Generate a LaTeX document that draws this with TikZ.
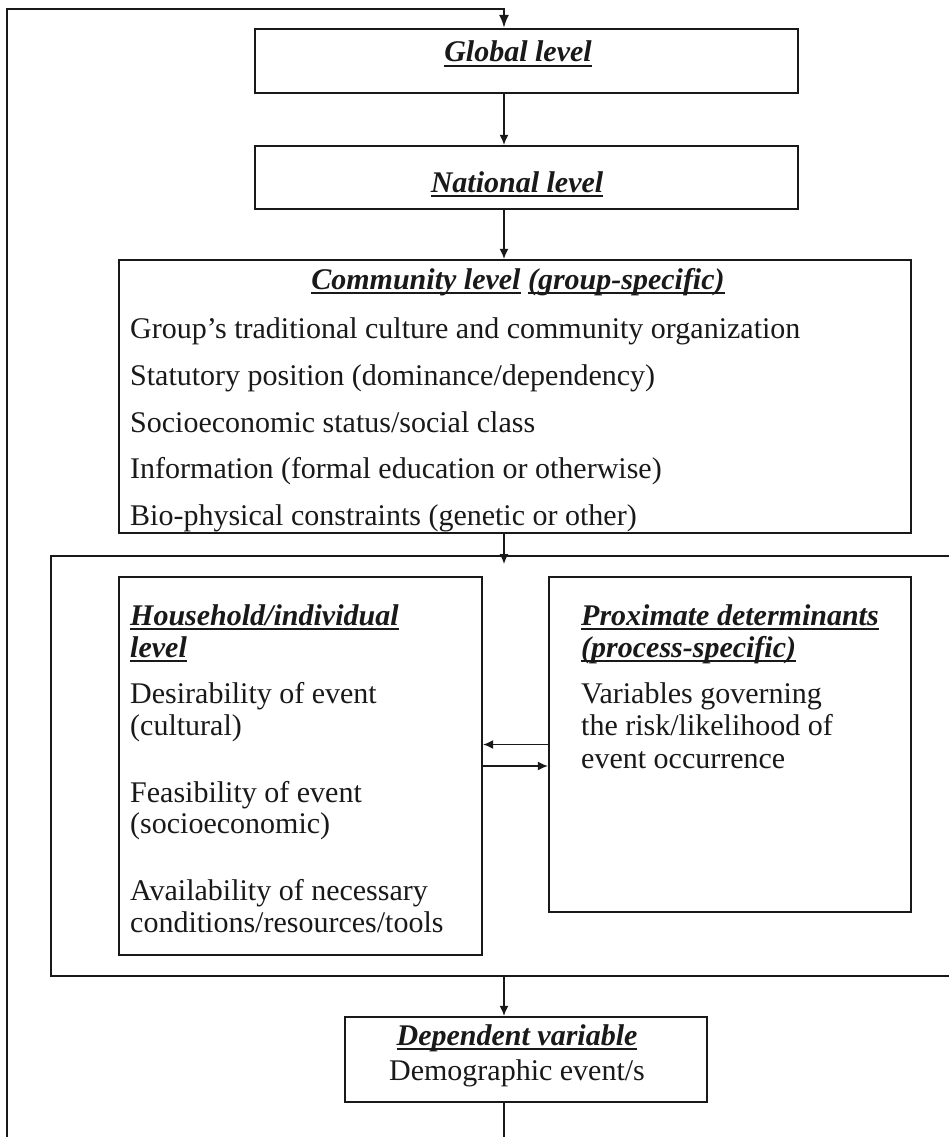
\documentclass[tikz,border=0pt]{standalone}
\usepackage{fontspec}
\setmainfont{Liberation Serif}
\usetikzlibrary{arrows.meta}
\newsavebox\ulsave
\newcommand\ulin[1]{\sbox\ulsave{#1}\rlap{\rule[-5pt]{\wd\ulsave}{2.2pt}}\usebox\ulsave}
\begin{document}
\begin{tikzpicture}[x=1pt,y=-1pt,
  boxst/.style={draw=black!90, line width=2.2pt, rectangle, inner sep=0pt},
  conn/.style={line width=1.6pt, draw=black!90},
  arr/.style={conn, -{Latex[length=10pt,width=9pt]}},
  txt/.style={inner sep=0pt, text=black!90, font=\fontsize{30}{32}\selectfont},
  hd/.style={inner sep=0pt, text=black!90, font=\fontsize{30}{32}\selectfont\bfseries\itshape},
]
\useasboundingbox (0,0) rectangle (949,1137);
\fill[white] (0,0) rectangle (949,1137);

% boxes
\node[boxst, minimum width=543pt, minimum height=64pt] (global) at (526.5,61) {};
\node[boxst, minimum width=543pt, minimum height=63pt] (national) at (526.5,177.5) {};
\node[boxst, minimum width=792pt, minimum height=273pt] (community) at (515,396.5) {};
\node[boxst, minimum width=363pt, minimum height=378pt] (household) at (300.5,766) {};
\node[boxst, minimum width=362pt, minimum height=335pt] (proximate) at (730,744.5) {};
\node[boxst, minimum width=362pt, minimum height=85pt] (dependent) at (526,1059.5) {};

% texts
\node[hd, anchor=base] (globaltxt) at (518,62) {\ulin{Global level}};
\node[hd, anchor=base] (nationaltxt) at (517,192) {\ulin{National level}};
\node[hd, anchor=base] (communitytxt) at (518,289) {\ulin{Community level} \ulin{(group-specific)}};
\node[txt, anchor=base west] (c1) at (130,338) {Group’s traditional culture and community organization};
\node[txt, anchor=base west] (c2) at (130,385) {Statutory position (dominance/dependency)};
\node[txt, anchor=base west] (c3) at (130,432) {Socioeconomic status/social class};
\node[txt, anchor=base west] (c4) at (130,478) {Information (formal education or otherwise)};
\node[txt, anchor=base west] (c5) at (130,525) {Bio-physical constraints (genetic or other)};

\node[hd, anchor=base west] (h1) at (130,625) {\ulin{Household/individual}};
\node[hd, anchor=base west] (h2) at (130,657) {\ulin{level}};
\node[txt, anchor=base west] (h3) at (130,703) {Desirability of event};
\node[txt, anchor=base west] (h4) at (130,735) {(cultural)};
\node[txt, anchor=base west] (h5) at (130,802) {Feasibility of event};
\node[txt, anchor=base west] (h6) at (130,833) {(socioeconomic)};
\node[txt, anchor=base west] (h7) at (130,900) {Availability of necessary};
\node[txt, anchor=base west] (h8) at (130,932) {conditions/resources/tools};

\node[hd, anchor=base west] (p1) at (581,625) {\ulin{Proximate determinants}};
\node[hd, anchor=base west] (p2) at (581,657) {\ulin{(process-specific)}};
\node[txt, anchor=base west] (p3) at (581,703) {Variables governing};
\node[txt, anchor=base west] (p4) at (581,735) {the risk/likelihood of};
\node[txt, anchor=base west] (p5) at (581,768) {event occurrence};

\node[hd, anchor=base] (d1) at (517,1045) {\ulin{Dependent variable}};
\node[txt, anchor=base] (d2) at (517,1080) {Demographic event/s};

% coordinates
\coordinate (fx) at (504,0);
\coordinate (fbL) at (7,1137);
\coordinate (fbTL) at (7,9);
\coordinate (fbT) at (504,9);
\coordinate (depend) at (504,1137);
\coordinate (ctr) at (949,556);
\coordinate (ctl) at (51,556);
\coordinate (cbl) at (51,976);
\coordinate (cbr) at (949,976);
\coordinate (cin) at (504,564);
\coordinate (cout) at (504,976);

% container
\draw[line width=2.2pt, draw=black!90] (ctr) -- (ctl) -- (cbl) -- (cbr);

% feedback loop
\draw[line width=2pt, draw=black!90, -{Latex[length=13pt,width=10pt]}] (fbL) -- (fbTL) -- (fbT) -- (global.north -| fx);
\draw[conn] (dependent.south -| fx) -- (depend);

% connectors
\draw[arr] (global.south -| fx) -- (national.north -| fx);
\draw[arr] (national.south -| fx) -- (community.north -| fx);
\draw[arr] (community.south -| fx) -- (cin);
\draw[arr] (cout) -- (dependent.north -| fx);
\draw[arr] (proximate.west) -- (household.east |- proximate.west);
\draw[arr] (household.east) -- (proximate.west |- household.east);
\end{tikzpicture}
\end{document}
